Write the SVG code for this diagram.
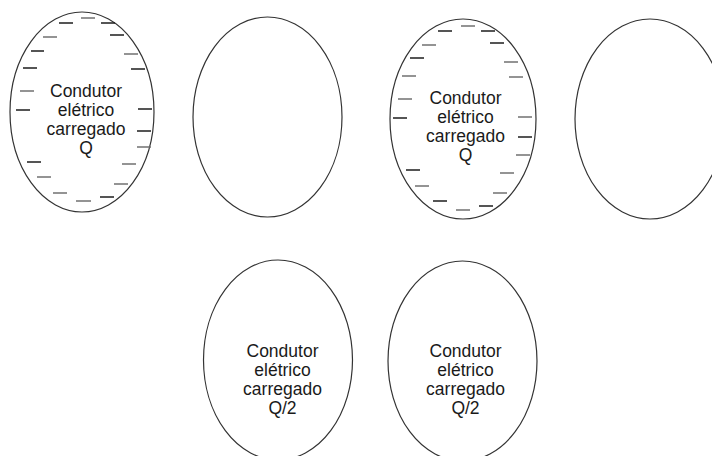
<svg xmlns="http://www.w3.org/2000/svg" width="712" height="456" viewBox="0 0 712 456">
<style>
.body{fill:none;stroke:#333;stroke-width:1.2}
.lbl{font-family:"Liberation Sans",Arial,sans-serif;font-size:17.5px;fill:#1a1a1a;text-anchor:middle}
.qd{fill:none;stroke:#1e1e1e;stroke-width:1.3}
.qg{fill:none;stroke:#727272;stroke-width:1.3}
</style>
<rect width="712" height="456" fill="#fff"/>
<g id="conductor-charged-1">
<ellipse class="body" cx="82" cy="112" rx="72" ry="100"/>
<path class="qd" d="M59 23H73M101 23H115M110 35H124M31 51H44M23 68H37M131 69H145M16 110H30M138 109H152M137 131H151M27 162H41M100 197H114"/>
<path class="qg" d="M81 18H95M43 37H57M124 54H138M20 91H34M137 147H151M122 164H136M37 177H51M114 184H128M53 193H67M76 201H91"/>
<text class="lbl" x="86" y="97">Condutor</text>
<text class="lbl" x="86" y="116">elétrico</text>
<text class="lbl" x="86" y="135">carregado</text>
<text class="lbl" x="86" y="154">Q</text>
</g>
<g id="conductor-neutral-1">
<ellipse class="body" cx="267.5" cy="117" rx="74.5" ry="100"/>
</g>
<g id="conductor-charged-2">
<ellipse class="body" cx="463" cy="119" rx="73" ry="100"/>
<path class="qd" d="M438 31H452M481 31H495M490 43H504M410 58H424M393 118H407M518 137H532M406 170H420M433 201H447M479 206H493"/>
<path class="qg" d="M461 26H475M422 45H436M504 62H518M402 76H416M509 77H523M398 99H412M518 117H532M516 155H530M500 173H514M415 186H429M493 193H507M456 210H470"/>
<text class="lbl" x="465.5" y="104">Condutor</text>
<text class="lbl" x="465.5" y="123">elétrico</text>
<text class="lbl" x="465.5" y="142">carregado</text>
<text class="lbl" x="465.5" y="161">Q</text>
</g>
<g id="conductor-neutral-2">
<ellipse class="body" cx="650" cy="119" rx="75" ry="100"/>
</g>
<g id="conductor-half-1">
<ellipse class="body" cx="278" cy="360" rx="74.5" ry="100"/>
<text class="lbl" x="282.5" y="357">Condutor</text>
<text class="lbl" x="282.5" y="376">elétrico</text>
<text class="lbl" x="282.5" y="395">carregado</text>
<text class="lbl" x="282.5" y="414">Q/2</text>
</g>
<g id="conductor-half-2">
<ellipse class="body" cx="462.5" cy="361" rx="74.5" ry="100"/>
<text class="lbl" x="465.5" y="357">Condutor</text>
<text class="lbl" x="465.5" y="376">elétrico</text>
<text class="lbl" x="465.5" y="395">carregado</text>
<text class="lbl" x="465.5" y="414">Q/2</text>
</g>
<g id="connectors"/>
</svg>
